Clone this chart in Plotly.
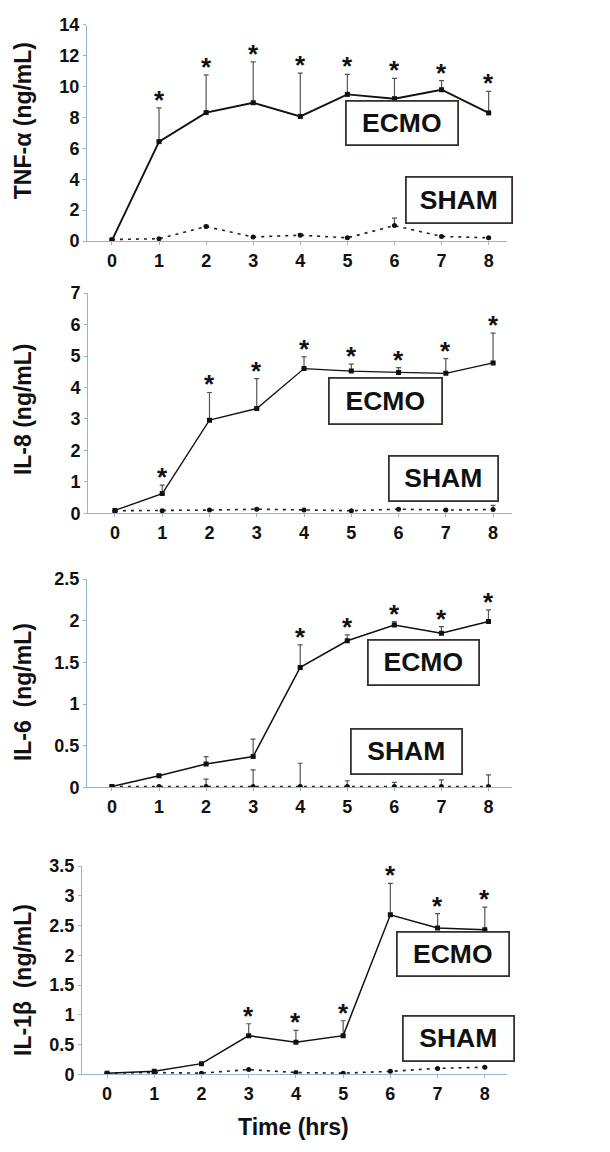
import plotly.graph_objects as go

hours = [0, 1, 2, 3, 4, 5, 6, 7, 8]
hour_labels = ["0", "1", "2", "3", "4", "5", "6", "7", "8"]

# TNF-alpha (ng/mL)
tnf_ecmo = [0.05, 6.44, 8.32, 8.96, 8.07, 9.5, 9.22, 9.8, 8.3]
tnf_ecmo_err = [0, 2.18, 2.44, 2.64, 2.81, 1.3, 1.32, 0.59, 1.39]
tnf_sham = [0.1, 0.15, 0.94, 0.26, 0.38, 0.21, 1.0, 0.3, 0.21]
tnf_sham_err = [0, 0, 0.08, 0, 0.1, 0, 0.49, 0, 0]
tnf_star = [False, True, True, True, True, True, True, True, True]

# IL-8 (ng/mL)
il8_ecmo = [0.09, 0.625, 2.96, 3.33, 4.6, 4.52, 4.48, 4.45, 4.78]
il8_ecmo_err = [0, 0.27, 0.88, 0.95, 0.37, 0.22, 0.15, 0.47, 0.95]
il8_sham = [0.08, 0.08, 0.1, 0.13, 0.1, 0.08, 0.13, 0.1, 0.12]
il8_sham_err = [0, 0, 0, 0, 0, 0, 0, 0, 0.13]
il8_star = [False, True, True, True, True, True, True, True, True]

# IL-6 (ng/mL)
il6_ecmo = [0.01, 0.14, 0.28, 0.37, 1.44, 1.76, 1.95, 1.85, 1.99]
il6_ecmo_err = [0, 0.01, 0.09, 0.21, 0.27, 0.07, 0.04, 0.08, 0.14]
il6_sham = [0.01, 0.01, 0.01, 0.01, 0.01, 0.01, 0.01, 0.01, 0.01]
il6_sham_err = [0, 0, 0.09, 0.2, 0.28, 0.07, 0.05, 0.08, 0.14]
il6_star = [False, False, False, False, True, True, True, True, True]

# IL-1beta (ng/mL)
il1b_ecmo = [0.02, 0.05, 0.18, 0.65, 0.54, 0.65, 2.68, 2.46, 2.43]
il1b_ecmo_err = [0, 0, 0, 0.2, 0.2, 0.25, 0.53, 0.24, 0.38]
il1b_sham = [0.02, 0.03, 0.02, 0.08, 0.03, 0.02, 0.05, 0.1, 0.12]
il1b_sham_err = [0, 0, 0, 0, 0, 0, 0, 0, 0]
il1b_star = [False, False, False, True, True, True, True, True, True]

y_titles = ["TNF-α (ng/mL)", "IL-8 (ng/mL)", "IL-6  (ng/mL)", "IL-1β  (ng/mL)"]
x_title = "Time (hrs)"
group_names = ["ECMO", "SHAM"]

W, H = 610, 1152
OFF = 8  # page body margin
FONT = "Arial, Liberation Sans, sans-serif"
AXC = "#93b6cf"


def px_x(v):
    return (v - OFF) / W


def px_y(v):
    return 1 - (v - OFF) / H


panels = [
    dict(ecmo=tnf_ecmo, ee=tnf_ecmo_err, sham=tnf_sham, se=tnf_sham_err, star=tnf_star,
         yr=[0, 14], dt=2, xpx=(87, 507), xr=[-0.53, 8.39], ypx=(235, 15),
         ecmo_box=(345, 92, 459, 138), sham_box=(405, 169, 513, 217), tcy=113, lw=1.9),
    dict(ecmo=il8_ecmo, ee=il8_ecmo_err, sham=il8_sham, se=il8_sham_err, star=il8_star,
         yr=[0, 7], dt=1, xpx=(88, 512), xr=[-0.57, 8.4], ypx=(512, 288),
         ecmo_box=(328, 374, 443, 422), sham_box=(388, 453, 499, 500), tcy=406, lw=1.3),
    dict(ecmo=il6_ecmo, ee=il6_ecmo_err, sham=il6_sham, se=il6_sham_err, star=il6_star,
         yr=[0, 2.5], dt=0.5, xpx=(87, 512), xr=[-0.53, 8.5], ypx=(791, 579),
         ecmo_box=(367, 640, 480, 687), sham_box=(350, 731, 463, 778), tcy=694, lw=1.5),
    dict(ecmo=il1b_ecmo, ee=il1b_ecmo_err, sham=il1b_sham, se=il1b_sham_err, star=il1b_star,
         yr=[0, 3.5], dt=0.5, xpx=(82, 507), xr=[-0.53, 8.47], ypx=(1083, 871),
         ecmo_box=(396, 938, 510, 984), sham_box=(402, 1023, 515, 1070), tcy=987, lw=1.5),
]

fig = go.Figure()
annotations = []
layout = {}

for i, p in enumerate(panels):
    n = "" if i == 0 else str(i + 1)
    xa, ya = "x" + n, "y" + n
    # SHAM (dotted)
    fig.add_trace(go.Scatter(
        x=hours, y=p["sham"], xaxis=xa, yaxis=ya, mode="lines+markers",
        line=dict(color="#222", width=1.6, dash="3px,5px"),
        marker=dict(color="#111", size=5, symbol="circle"),
        error_y=dict(type="data", symmetric=False, array=p["se"],
                     arrayminus=[0] * len(p["se"]), color="#555", thickness=1.2, width=2.5),
        showlegend=False))
    # ECMO (solid)
    fig.add_trace(go.Scatter(
        x=hours, y=p["ecmo"], xaxis=xa, yaxis=ya, mode="lines+markers",
        line=dict(color="#111", width=p["lw"]),
        marker=dict(color="#111", size=5, symbol="square"),
        error_y=dict(type="data", symmetric=False, array=p["ee"],
                     arrayminus=[0] * len(p["ee"]), color="#555", thickness=1.2, width=2.5),
        showlegend=False))
    x0, x1 = p["xpx"]
    yb, yt = p["ypx"]
    layout["xaxis" + n] = dict(
        domain=[px_x(x0), px_x(x1)], range=p["xr"], anchor=ya,
        tickmode="array", tickvals=hours, ticktext=hour_labels,
        showline=True, linecolor=AXC, linewidth=1, ticks="outside", ticklen=3,
        tickcolor=AXC, showgrid=False, zeroline=False, ticklabelstandoff=0,
        tickfont=dict(family=FONT, size=18, color="#111", weight="bold"))
    nt = int(round((p["yr"][1] - p["yr"][0]) / p["dt"]))
    tv = [p["yr"][0] + k * p["dt"] for k in range(nt + 1)]
    layout["yaxis" + n] = dict(
        domain=[px_y(yb), px_y(yt)], range=p["yr"], anchor=xa,
        tickmode="array", tickvals=tv, ticktext=[("%g" % v) for v in tv],
        showline=True, linecolor=AXC, linewidth=1, ticks="outside", ticklen=3,
        tickcolor=AXC, showgrid=False, zeroline=False, ticklabelstandoff=0,
        tickfont=dict(family=FONT, size=18, color="#111", weight="bold"))
    # y title
    annotations.append(dict(
        x=px_x(23), y=px_y(p["tcy"]), xref="paper", yref="paper",
        text=y_titles[i], textangle=-90, showarrow=False,
        font=dict(family=FONT, size=23, color="#111", weight="bold"),
        xanchor="center", yanchor="middle"))
    # asterisks
    for h, v, e, s in zip(hours, p["ecmo"], p["ee"], p["star"]):
        if s:
            annotations.append(dict(
                x=h, y=v + e, xref=xa, yref=ya, text="*", showarrow=False,
                font=dict(family=FONT, size=26, color="#111", weight="bold"),
                xanchor="center", yanchor="middle", yshift=8))
    # group boxes
    for name, box in zip(group_names, [p["ecmo_box"], p["sham_box"]]):
        bx0, by0, bx1, by1 = box
        annotations.append(dict(
            x=px_x((bx0 + bx1) / 2), y=px_y((by0 + by1) / 2), xref="paper", yref="paper",
            text=name, showarrow=False, width=bx1 - bx0 - 4, height=by1 - by0 - 4,
            bordercolor="#3b2f2c", borderwidth=1.8, borderpad=0, bgcolor="white",
            font=dict(family=FONT, size=26.5, color="#111", weight="bold"),
            xanchor="center", yanchor="middle"))

annotations.append(dict(
    x=px_x(293), y=px_y(1137), xref="paper", yref="paper", text=x_title,
    showarrow=False, font=dict(family=FONT, size=23, color="#111", weight="bold"),
    xanchor="center", yanchor="middle"))

fig.update_layout(
    width=W, height=H, margin=dict(l=0, r=0, t=0, b=0),
    paper_bgcolor="white", plot_bgcolor="white",
    annotations=annotations, **layout)

fig.write_html("out.html")
